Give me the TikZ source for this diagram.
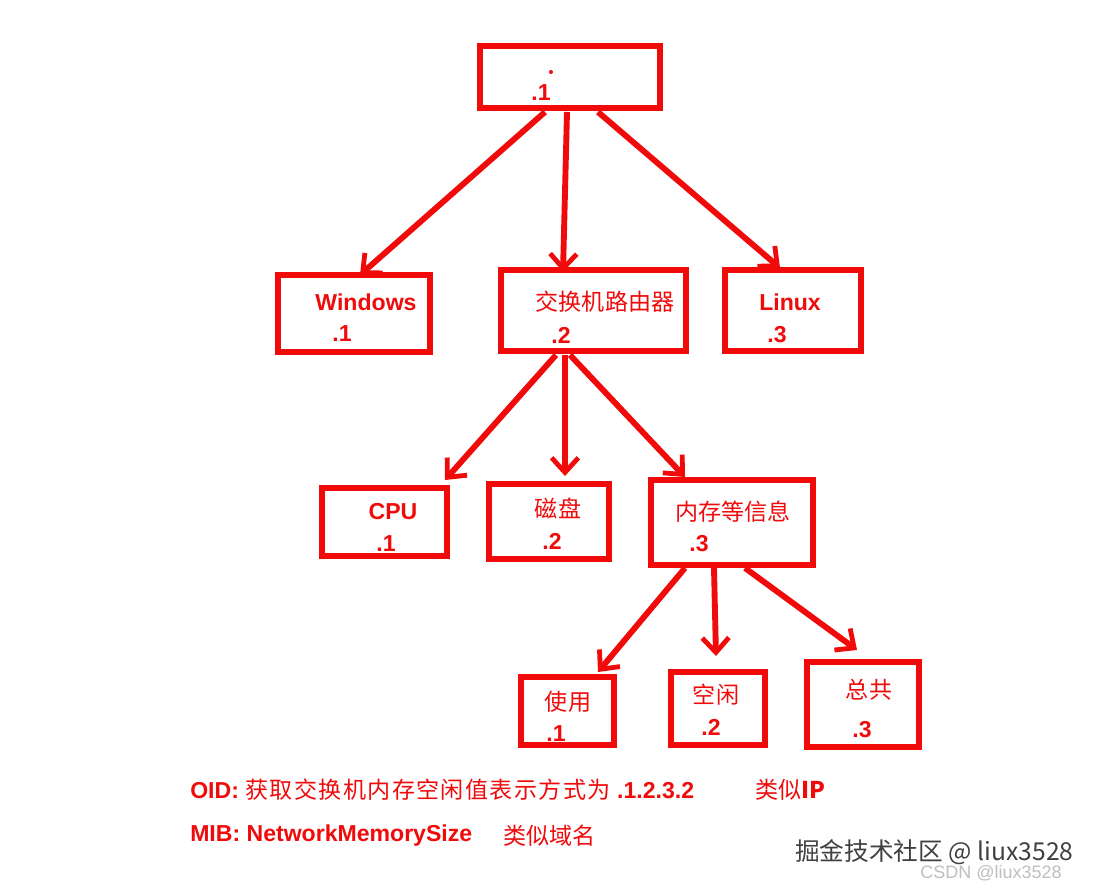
\documentclass[tikz,border=0pt]{standalone}
\usepackage{fontspec}
\setmainfont{Liberation Sans}
\newfontfamily\cjk{Noto Sans CJK SC}
\usetikzlibrary{arrows.meta}
\definecolor{rd}{RGB}{240,10,10}
\begin{document}
\begin{tikzpicture}[x=0.75pt,y=-0.75pt,
 box/.style={draw=rd,line width=4pt},
 lat/.style={text=rd,font=\fontsize{17.3}{19}\selectfont\bfseries,inner sep=0},
 han/.style={text=rd,font=\cjk\fontsize{17.3}{19}\selectfont,inner sep=0},
 arr/.style={draw=rd,line width=4.4pt,-{Straight Barb[length=11pt,width=20pt,line width=3.6pt]}}]
\useasboundingbox[fill=white] (0,0) rectangle (1103,891);
% boxes
\draw[box] (480,46) rectangle (660,108);
\draw[box] (278,275) rectangle (430,352);
\draw[box] (501,270) rectangle (686,351);
\draw[box] (725,270) rectangle (861,351);
\draw[box] (322,488) rectangle (447,556);
\draw[box] (489,484) rectangle (609,559);
\draw[box] (651,480) rectangle (813,565);
\draw[box] (521,677) rectangle (614,745);
\draw[box] (671,672) rectangle (765,745);
\draw[box] (807,662) rectangle (919,747);
% texts
\node[lat] (r1) at (541,93) {.1};
\fill[rd] (551,72) circle (2);
\node[lat] (w) at (366,302) {Windows};
\node[lat] (w1) at (342,334) {.1};
\node[han] (s) at (605,302) {交换机路由器};
\node[lat] (s1) at (561,335) {.2};
\node[lat] (l) at (790,302) {Linux};
\node[lat] (l1) at (777,335) {.3};
\node[lat] (c) at (393,512) {CPU};
\node[lat] (c1) at (386,544) {.1};
\node[han] (d) at (558,508) {磁盘};
\node[lat] (d1) at (552,541) {.2};
\node[han] (m) at (733,512) {内存等信息};
\node[lat] (m1) at (699,544) {.3};
\node[han] (u) at (568,702) {使用};
\node[lat] (u1) at (556,734) {.1};
\node[han] (f) at (716,695) {空闲};
\node[lat] (f1) at (711,727) {.2};
\node[han] (t) at (869,690) {总共};
\node[lat] (t1) at (862,730) {.3};
\node[lat,anchor=west] (oid) at (190,790) {OID: {\cjk\mdseries\addfontfeatures{LetterSpace=6} 获取交换机内存空闲值表示方式为} .1.2.3.2};
\node[han,anchor=west] (ip) at (755,790) {类似\textbf{IP}};
\node[lat,anchor=west] (mib) at (190,836) {MIB: NetworkMemorySize};
\node[han,anchor=west] (dn) at (503,836) {类似域名};
\node[anchor=west,inner sep=0,text=black!75,font=\cjk\fontsize{18.5}{20}\selectfont] (wm) at (795,852) {掘金技术社区 @ liux3528};
\node[anchor=west,inner sep=0,text=black!25,font=\fontsize{13.5}{15}\selectfont] (wm2) at (920,873) {CSDN @liux3528};
% arrows
\coordinate (a0) at (545,112); \coordinate (b0) at (360,275);
\coordinate (a1) at (567,112); \coordinate (b1) at (563,272);
\coordinate (a2) at (598,112); \coordinate (b2) at (780,268);
\coordinate (a3) at (556,355); \coordinate (b3) at (445,480);
\coordinate (a4) at (565,355); \coordinate (b4) at (565,476);
\coordinate (a5) at (570,355); \coordinate (b5) at (685,477);
\coordinate (a6) at (685,568); \coordinate (b6) at (598,672);
\coordinate (a7) at (714,568); \coordinate (b7) at (716,656);
\coordinate (a8) at (745,568); \coordinate (b8) at (857,650);
\foreach \i in {0,...,8} \draw[arr] (a\i) -- (b\i);
\end{tikzpicture}
\end{document}
